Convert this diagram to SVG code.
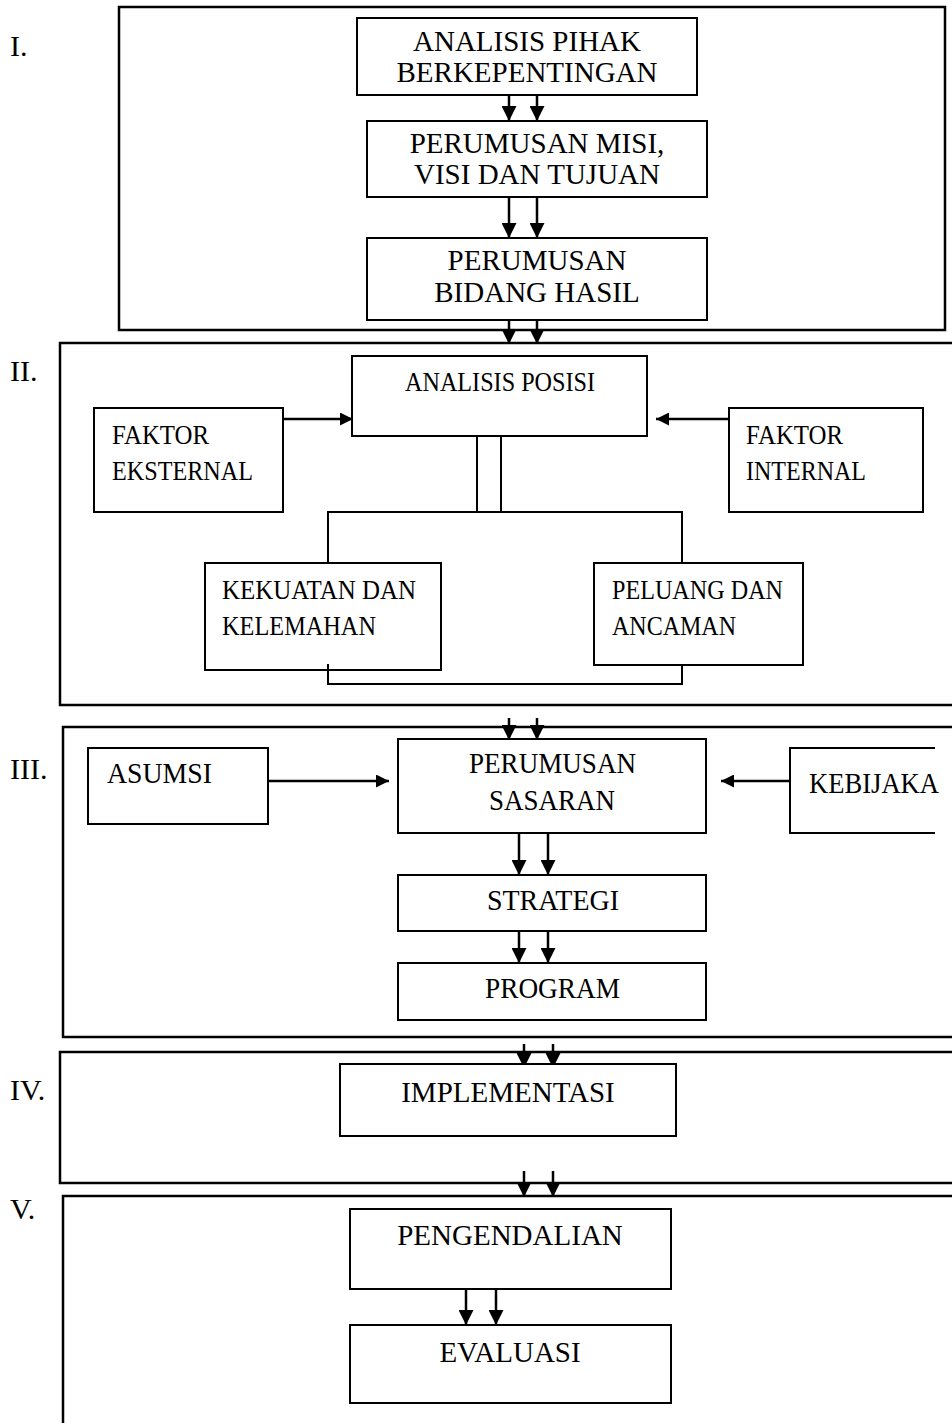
<svg xmlns="http://www.w3.org/2000/svg" width="952" height="1423" viewBox="0 0 952 1423">
<defs>
<marker id="ahs" viewBox="0 0 10 10" refX="10" refY="5" markerWidth="13" markerHeight="13" markerUnits="userSpaceOnUse" orient="auto"><path d="M0,0 L10,5 L0,10 z" fill="#000"/></marker>
<marker id="ahl" viewBox="0 0 10 10" refX="10" refY="5" markerWidth="15" markerHeight="15" markerUnits="userSpaceOnUse" orient="auto"><path d="M0,0 L10,5 L0,10 z" fill="#000"/></marker>
<clipPath id="clipK"><rect x="0" y="0" width="935" height="1423"/></clipPath>
</defs>
<style>
.sec{fill:none;stroke:#000;stroke-width:2.5}
.box{fill:#fff;stroke:#000;stroke-width:2}
.ln{fill:none;stroke:#000;stroke-width:2}
.ar{fill:none;stroke:#000;stroke-width:2.5}
.t{font-family:"Liberation Serif","Times New Roman",serif;fill:#000}
.c{text-anchor:middle}
.s1{font-size:29px}
.s2{font-size:28px}
.s3{font-size:29px}
.lab{font-size:30px}
</style>

<g id="sections">
<rect class="sec" x="119" y="7" width="826" height="323"/>
<path class="sec" d="M952,343 H60 V705 H952"/>
<path class="sec" d="M952,727 H63 V1037 H952"/>
<path class="sec" d="M952,1052 H60 V1183 H952"/>
<path class="sec" d="M952,1196 H63 V1423"/>
</g>

<g id="labels">
<text class="t lab" x="10" y="56">I.</text>
<text class="t lab" x="10" y="381">II.</text>
<text class="t lab" x="10" y="779">III.</text>
<text class="t lab" x="10" y="1100">IV.</text>
<text class="t lab" x="10" y="1219">V.</text>
</g>

<g id="connectors">
<path class="ar" d="M509,95 V121" marker-end="url(#ahl)"/>
<path class="ar" d="M537,95 V121" marker-end="url(#ahl)"/>
<path class="ar" d="M509,197 V238" marker-end="url(#ahl)"/>
<path class="ar" d="M537,197 V238" marker-end="url(#ahl)"/>
<path class="ar" d="M509,320 V344" marker-end="url(#ahl)"/>
<path class="ar" d="M537,320 V344" marker-end="url(#ahl)"/>
<path class="ar" d="M283,419 H353" marker-end="url(#ahs)"/>
<path class="ar" d="M729,419 H656" marker-end="url(#ahs)"/>
<path class="ln" d="M477,436 V512 M501,436 V512"/>
<path class="ln" d="M328,563 V512 H682 V563"/>
<path class="ar" d="M509,718 V740" marker-end="url(#ahl)"/>
<path class="ar" d="M537,718 V740" marker-end="url(#ahl)"/>
<path class="ar" d="M268,781 H389" marker-end="url(#ahs)"/>
<path class="ar" d="M790,781 H721" marker-end="url(#ahs)"/>
<path class="ar" d="M519,833 V875" marker-end="url(#ahl)"/>
<path class="ar" d="M548,833 V875" marker-end="url(#ahl)"/>
<path class="ar" d="M519,931 V963" marker-end="url(#ahl)"/>
<path class="ar" d="M548,931 V963" marker-end="url(#ahl)"/>
<path class="ar" d="M524,1044 V1068" marker-end="url(#ahl)"/>
<path class="ar" d="M553,1044 V1068" marker-end="url(#ahl)"/>
<path class="ar" d="M524,1171 V1197" marker-end="url(#ahl)"/>
<path class="ar" d="M553,1171 V1197" marker-end="url(#ahl)"/>
<path class="ar" d="M466,1289 V1325" marker-end="url(#ahl)"/>
<path class="ar" d="M496,1289 V1325" marker-end="url(#ahl)"/>
</g>

<g id="n-analisis-pihak">
<rect class="box" x="357" y="18" width="340" height="77"/>
<text class="t s1 c" x="527" y="51">ANALISIS PIHAK</text>
<text class="t s1 c" x="527" y="82">BERKEPENTINGAN</text>
</g>
<g id="n-misi">
<rect class="box" x="367" y="121" width="340" height="76"/>
<text class="t s1 c" x="537" y="153">PERUMUSAN MISI,</text>
<text class="t s1 c" x="537" y="184">VISI DAN TUJUAN</text>
</g>
<g id="n-bidang">
<rect class="box" x="367" y="238" width="340" height="82"/>
<text class="t s1 c" x="537" y="270">PERUMUSAN</text>
<text class="t s1 c" x="537" y="302">BIDANG HASIL</text>
</g>

<g id="n-analisis-posisi">
<rect class="box" x="352" y="356" width="295" height="80"/>
<text class="t s2" x="405" y="391" textLength="190" lengthAdjust="spacingAndGlyphs">ANALISIS POSISI</text>
</g>
<g id="n-faktor-eksternal">
<rect class="box" x="94" y="408" width="189" height="104"/>
<text class="t s2" x="112" y="444" textLength="97" lengthAdjust="spacingAndGlyphs">FAKTOR</text>
<text class="t s2" x="112" y="480" textLength="141" lengthAdjust="spacingAndGlyphs">EKSTERNAL</text>
</g>
<g id="n-faktor-internal">
<rect class="box" x="729" y="408" width="194" height="104"/>
<text class="t s2" x="746" y="444" textLength="97" lengthAdjust="spacingAndGlyphs">FAKTOR</text>
<text class="t s2" x="746" y="480" textLength="120" lengthAdjust="spacingAndGlyphs">INTERNAL</text>
</g>
<g id="n-kekuatan">
<rect class="box" x="205" y="563" width="236" height="107"/>
<text class="t s2" x="222" y="599" textLength="194" lengthAdjust="spacingAndGlyphs">KEKUATAN DAN</text>
<text class="t s2" x="222" y="635" textLength="154" lengthAdjust="spacingAndGlyphs">KELEMAHAN</text>
</g>
<g id="n-peluang">
<rect class="box" x="594" y="563" width="209" height="102"/>
<text class="t s2" x="612" y="599" textLength="171" lengthAdjust="spacingAndGlyphs">PELUANG DAN</text>
<text class="t s2" x="612" y="635" textLength="124" lengthAdjust="spacingAndGlyphs">ANCAMAN</text>
</g>
<path class="ln" d="M328,664 V684 H682 V665"/>

<g id="n-asumsi">
<rect class="box" x="88" y="748" width="180" height="76"/>
<text class="t s3" x="107" y="783" textLength="105" lengthAdjust="spacingAndGlyphs">ASUMSI</text>
</g>
<g id="n-sasaran">
<rect class="box" x="398" y="739" width="308" height="94"/>
<text class="t s3" x="469" y="773" textLength="167" lengthAdjust="spacingAndGlyphs">PERUMUSAN</text>
<text class="t s3" x="489" y="810" textLength="126" lengthAdjust="spacingAndGlyphs">SASARAN</text>
</g>
<g id="n-kebijakan">
<rect class="box" x="790" y="748" width="200" height="85" clip-path="url(#clipK)"/>
<text class="t s3" x="809" y="793" textLength="130" lengthAdjust="spacingAndGlyphs">KEBIJAKA</text>
</g>
<g id="n-strategi">
<rect class="box" x="398" y="875" width="308" height="56"/>
<text class="t s3" x="487" y="910" textLength="132" lengthAdjust="spacingAndGlyphs">STRATEGI</text>
</g>
<g id="n-program">
<rect class="box" x="398" y="963" width="308" height="57"/>
<text class="t s3" x="485" y="998" textLength="135" lengthAdjust="spacingAndGlyphs">PROGRAM</text>
</g>

<g id="n-implementasi">
<rect class="box" x="340" y="1064" width="336" height="72"/>
<text class="t s1 c" x="508" y="1102">IMPLEMENTASI</text>
</g>
<g id="n-pengendalian">
<rect class="box" x="350" y="1209" width="321" height="80"/>
<text class="t s1 c" x="510" y="1245">PENGENDALIAN</text>
</g>
<g id="n-evaluasi">
<rect class="box" x="350" y="1325" width="321" height="78"/>
<text class="t s1 c" x="510" y="1362">EVALUASI</text>
</g>
</svg>
